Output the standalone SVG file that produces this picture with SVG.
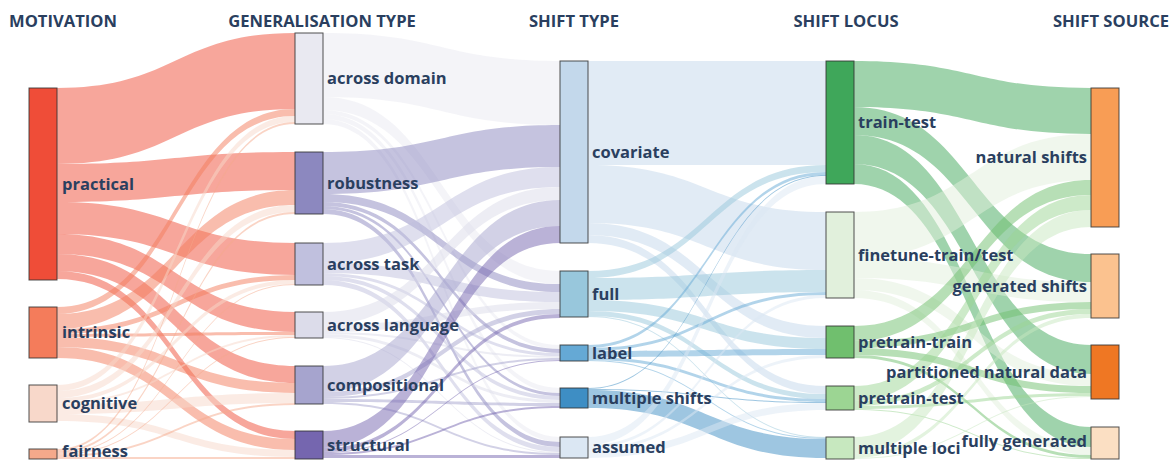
<svg xmlns="http://www.w3.org/2000/svg" width="1172" height="461" viewBox="0 0 1172 461">
<style>
text{font-family:"Open Sans","Noto Sans","Liberation Sans",sans-serif;font-weight:700;fill:#2a3f5f}
.hd{font-size:16.6px;text-anchor:middle}
.lb{font-size:16.5px}
.rt{text-anchor:end}
.nd{stroke:#333;stroke-width:1;stroke-opacity:.85}
#links path{fill-opacity:.5}
.cP{fill:#ef4d38}.cI{fill:#f47c5b}.cCg{fill:#f8d8ca}.cF{fill:#f5a98b}
.cAD{fill:#e9e9f1}.cR{fill:#8c88bf}.cAT{fill:#c0c0de}.cAL{fill:#dcdcea}.cC{fill:#a6a4ce}.cS{fill:#7566af}
.cCov{fill:#c3d8eb}.cFull{fill:#98c7dc}.cLab{fill:#65a9d5}.cMul{fill:#3e8ec4}.cAss{fill:#dbe7f3}
.cTT{fill:#3fa75a}.cFT{fill:#e1f0dc}.cPTr{fill:#70bf6e}.cPTe{fill:#9cd593}.cML{fill:#c7e8bf}
.cNS{fill:#f89d55}.cGS{fill:#fbc28f}.cPND{fill:#ef7723}.cFG{fill:#fbdfc3}
</style>
<g id="headers">
<text class="hd" x="63" y="27">MOTIVATION</text>
<text class="hd" x="322" y="27">GENERALISATION TYPE</text>
<text class="hd" x="574" y="27">SHIFT TYPE</text>
<text class="hd" x="846" y="27">SHIFT LOCUS</text>
<text class="hd" x="1111" y="27">SHIFT SOURCE</text>
</g>
<g id="links">
<path class="cP" d="M57 88C176 88 176 33 295 33L295 109C176 109 176 164 57 164Z"/>
<path class="cP" d="M57 164C176 164 176 152 295 152L295 190C176 190 176 202 57 202Z"/>
<path class="cP" d="M57 202C176 202 176 243 295 243L295 275C176 275 176 234 57 234Z"/>
<path class="cP" d="M57 234C176 234 176 312 295 312L295 332C176 332 176 254 57 254Z"/>
<path class="cP" d="M57 254C176 254 176 366 295 366L295 383C176 383 176 271 57 271Z"/>
<path class="cP" d="M57 271C176 271 176 431 295 431L295 439C176 439 176 279 57 279Z"/>
<path class="cI" d="M57 307C176 307 176 109 295 109L295 116C176 116 176 314 57 314Z"/>
<path class="cI" d="M57 314C176 314 176 190 295 190L295 205C176 205 176 329 57 329Z"/>
<path class="cI" d="M57 329C176 329 176 275 295 275L295 280C176 280 176 334 57 334Z"/>
<path class="cI" d="M57 334C176 334 176 332 295 332L295 335C176 335 176 337 57 337Z"/>
<path class="cI" d="M57 337C176 337 176 383 295 383L295 393C176 393 176 347 57 347Z"/>
<path class="cI" d="M57 347C176 347 176 439 295 439L295 450C176 450 176 358 57 358Z"/>
<path class="cCg" d="M57 385C176 385 176 116 295 116L295 122C176 122 176 391 57 391Z"/>
<path class="cCg" d="M57 391C176 391 176 205 295 205L295 212C176 212 176 398 57 398Z"/>
<path class="cCg" d="M57 398C176 398 176 280 295 280L295 284C176 284 176 402 57 402Z"/>
<path class="cCg" d="M57 402C176 402 176 335 295 335L295 337C176 337 176 404 57 404Z"/>
<path class="cCg" d="M57 404C176 404 176 393 295 393L295 403C176 403 176 414 57 414Z"/>
<path class="cCg" d="M57 414C176 414 176 450 295 450L295 457C176 457 176 421 57 421Z"/>
<path class="cF" d="M57 449C176 449 176 122 295 122L295 124C176 124 176 451 57 451Z"/>
<path class="cF" d="M57 451C176 451 176 212 295 212L295 214C176 214 176 453 57 453Z"/>
<path class="cF" d="M57 453C176 453 176 284 295 284L295 285C176 285 176 454 57 454Z"/>
<path class="cF" d="M57 454C176 454 176 337 295 337L295 338C176 338 176 455 57 455Z"/>
<path class="cF" d="M57 455C176 455 176 403 295 403L295 405C176 405 176 457 57 457Z"/>
<path class="cF" d="M57 457C176 457 176 457 295 457L295 459C176 459 176 459 57 459Z"/>
<path class="cAD" d="M323 33C441.5 33 441.5 61 560 61L560 125C441.5 125 441.5 97 323 97Z"/>
<path class="cAD" d="M323 97C441.5 97 441.5 271 560 271L560 284C441.5 284 441.5 110 323 110Z"/>
<path class="cAD" d="M323 110C441.5 110 441.5 345 560 345L560 349C441.5 349 441.5 114 323 114Z"/>
<path class="cAD" d="M323 114C441.5 114 441.5 388 560 388L560 393C441.5 393 441.5 119 323 119Z"/>
<path class="cAD" d="M323 119C441.5 119 441.5 437 560 437L560 442C441.5 442 441.5 124 323 124Z"/>
<path class="cR" d="M323 152C441.5 152 441.5 125 560 125L560 167C441.5 167 441.5 194 323 194Z"/>
<path class="cR" d="M323 194C441.5 194 441.5 284 560 284L560 292C441.5 292 441.5 202 323 202Z"/>
<path class="cR" d="M323 202C441.5 202 441.5 349 560 349L560 353C441.5 353 441.5 206 323 206Z"/>
<path class="cR" d="M323 206C441.5 206 441.5 393 560 393L560 396C441.5 396 441.5 209 323 209Z"/>
<path class="cR" d="M323 209C441.5 209 441.5 442 560 442L560 447C441.5 447 441.5 214 323 214Z"/>
<path class="cAT" d="M323 243C441.5 243 441.5 167 560 167L560 187C441.5 187 441.5 263 323 263Z"/>
<path class="cAT" d="M323 263C441.5 263 441.5 292 560 292L560 302C441.5 302 441.5 273 323 273Z"/>
<path class="cAT" d="M323 273C441.5 273 441.5 353 560 353L560 356C441.5 356 441.5 276 323 276Z"/>
<path class="cAT" d="M323 276C441.5 276 441.5 396 560 396L560 400C441.5 400 441.5 280 323 280Z"/>
<path class="cAT" d="M323 280C441.5 280 441.5 447 560 447L560 452C441.5 452 441.5 285 323 285Z"/>
<path class="cAL" d="M323 312C441.5 312 441.5 187 560 187L560 200C441.5 200 441.5 325 323 325Z"/>
<path class="cAL" d="M323 325C441.5 325 441.5 302 560 302L560 309C441.5 309 441.5 332 323 332Z"/>
<path class="cAL" d="M323 332C441.5 332 441.5 356 560 356L560 358C441.5 358 441.5 334 323 334Z"/>
<path class="cAL" d="M323 334C441.5 334 441.5 400 560 400L560 403C441.5 403 441.5 337 323 337Z"/>
<path class="cAL" d="M323 337C441.5 337 441.5 452 560 452L560 453C441.5 453 441.5 338 323 338Z"/>
<path class="cC" d="M323 366C441.5 366 441.5 200 560 200L560 226C441.5 226 441.5 392 323 392Z"/>
<path class="cC" d="M323 392C441.5 392 441.5 309 560 309L560 314C441.5 314 441.5 397 323 397Z"/>
<path class="cC" d="M323 397C441.5 397 441.5 358 560 358L560 360C441.5 360 441.5 399 323 399Z"/>
<path class="cC" d="M323 399C441.5 399 441.5 403 560 403L560 406C441.5 406 441.5 402 323 402Z"/>
<path class="cC" d="M323 402C441.5 402 441.5 453 560 453L560 455C441.5 455 441.5 404 323 404Z"/>
<path class="cS" d="M323 431C441.5 431 441.5 226 560 226L560 243C441.5 243 441.5 448 323 448Z"/>
<path class="cS" d="M323 448C441.5 448 441.5 314 560 314L560 318C441.5 318 441.5 452 323 452Z"/>
<path class="cS" d="M323 452C441.5 452 441.5 360 560 360L560 361C441.5 361 441.5 453 323 453Z"/>
<path class="cS" d="M323 453C441.5 453 441.5 406 560 406L560 408C441.5 408 441.5 455 323 455Z"/>
<path class="cS" d="M323 455C441.5 455 441.5 455 560 455L560 458C441.5 458 441.5 458 323 458Z"/>
<path class="cCov" d="M588 61C707 61 707 61 826 61L826 165C707 165 707 165 588 165Z"/>
<path class="cCov" d="M588 165C707 165 707 212 826 212L826 270C707 270 707 223 588 223Z"/>
<path class="cCov" d="M588 223C707 223 707 326 826 326L826 338C707 338 707 235 588 235Z"/>
<path class="cCov" d="M588 235C707 235 707 386 826 386L826 394C707 394 707 243 588 243Z"/>
<path class="cFull" d="M588 271C707 271 707 165 826 165L826 172C707 172 707 278 588 278Z"/>
<path class="cFull" d="M588 278C707 278 707 270 826 270L826 292C707 292 707 300 588 300Z"/>
<path class="cFull" d="M588 300C707 300 707 338 826 338L826 349C707 349 707 311 588 311Z"/>
<path class="cFull" d="M588 311C707 311 707 394 826 394L826 399C707 399 707 316 588 316Z"/>
<path class="cFull" d="M588 316C707 316 707 437 826 437L826 438C707 438 707 317 588 317Z"/>
<path class="cLab" d="M588 345C707 345 707 172 826 172L826 175C707 175 707 348 588 348Z"/>
<path class="cLab" d="M588 348C707 348 707 292 826 292L826 295C707 295 707 351 588 351Z"/>
<path class="cLab" d="M588 351C707 351 707 349 826 349L826 355C707 355 707 357 588 357Z"/>
<path class="cLab" d="M588 357C707 357 707 399 826 399L826 402C707 402 707 360 588 360Z"/>
<path class="cLab" d="M588 360C707 360 707 438 826 438L826 439C707 439 707 361 588 361Z"/>
<path class="cMul" d="M588 388C707 388 707 175 826 175L826 176C707 176 707 389 588 389Z"/>
<path class="cMul" d="M588 389C707 389 707 402 826 402L826 403C707 403 707 390 588 390Z"/>
<path class="cMul" d="M588 390C707 390 707 439 826 439L826 458C707 458 707 408 588 408Z"/>
<path class="cAss" d="M588 437C707 437 707 176 826 176L826 184C707 184 707 445 588 445Z"/>
<path class="cAss" d="M588 445C707 445 707 295 826 295L826 298C707 298 707 448 588 448Z"/>
<path class="cAss" d="M588 448C707 448 707 355 826 355L826 358C707 358 707 451 588 451Z"/>
<path class="cAss" d="M588 451C707 451 707 403 826 403L826 410C707 410 707 458 588 458Z"/>
<path class="cTT" d="M854 61C972.5 61 972.5 88 1091 88L1091 134C972.5 134 972.5 107 854 107Z"/>
<path class="cTT" d="M854 107C972.5 107 972.5 254 1091 254L1091 282C972.5 282 972.5 135 854 135Z"/>
<path class="cTT" d="M854 135C972.5 135 972.5 345 1091 345L1091 374C972.5 374 972.5 164 854 164Z"/>
<path class="cTT" d="M854 164C972.5 164 972.5 427 1091 427L1091 447C972.5 447 972.5 184 854 184Z"/>
<path class="cFT" d="M854 212C972.5 212 972.5 134 1091 134L1091 180C972.5 180 972.5 258 854 258Z"/>
<path class="cFT" d="M854 258C972.5 258 972.5 282 1091 282L1091 302C972.5 302 972.5 278 854 278Z"/>
<path class="cFT" d="M854 278C972.5 278 972.5 374 1091 374L1091 386C972.5 386 972.5 290 854 290Z"/>
<path class="cFT" d="M854 290C972.5 290 972.5 447 1091 447L1091 455C972.5 455 972.5 298 854 298Z"/>
<path class="cPTr" d="M854 326C972.5 326 972.5 180 1091 180L1091 195C972.5 195 972.5 341 854 341Z"/>
<path class="cPTr" d="M854 341C972.5 341 972.5 302 1091 302L1091 309C972.5 309 972.5 348 854 348Z"/>
<path class="cPTr" d="M854 348C972.5 348 972.5 386 1091 386L1091 393C972.5 393 972.5 355 854 355Z"/>
<path class="cPTr" d="M854 355C972.5 355 972.5 455 1091 455L1091 458C972.5 458 972.5 358 854 358Z"/>
<path class="cPTe" d="M854 386C972.5 386 972.5 195 1091 195L1091 210C972.5 210 972.5 401 854 401Z"/>
<path class="cPTe" d="M854 401C972.5 401 972.5 309 1091 309L1091 314C972.5 314 972.5 406 854 406Z"/>
<path class="cPTe" d="M854 406C972.5 406 972.5 393 1091 393L1091 396C972.5 396 972.5 409 854 409Z"/>
<path class="cPTe" d="M854 409C972.5 409 972.5 458 1091 458L1091 459C972.5 459 972.5 410 854 410Z"/>
<path class="cML" d="M854 437C972.5 437 972.5 210 1091 210L1091 227C972.5 227 972.5 454 854 454Z"/>
<path class="cML" d="M854 454C972.5 454 972.5 314 1091 314L1091 318C972.5 318 972.5 458 854 458Z"/>
<path class="cML" d="M854 458C972.5 458 972.5 396 1091 396L1091 397C972.5 397 972.5 459 854 459Z"/>
</g>
<g id="node-practical"><rect class="nd cP" x="29" y="88" width="28" height="192"/><text class="lb" x="62" y="184" dy=".35em">practical</text></g>
<g id="node-intrinsic"><rect class="nd cI" x="29" y="307" width="28" height="51"/><text class="lb" x="62" y="332.5" dy=".35em">intrinsic</text></g>
<g id="node-cognitive"><rect class="nd cCg" x="29" y="385" width="28" height="37"/><text class="lb" x="62" y="403.5" dy=".35em">cognitive</text></g>
<g id="node-fairness"><rect class="nd cF" x="29" y="449" width="28" height="10"/><text class="lb" x="62" y="451.5" dy=".35em">fairness</text></g>
<g id="node-across-domain"><rect class="nd cAD" x="295" y="33" width="28" height="91"/><text class="lb" x="327" y="78.5" dy=".35em">across domain</text></g>
<g id="node-robustness"><rect class="nd cR" x="295" y="152" width="28" height="62"/><text class="lb" x="327" y="183" dy=".35em">robustness</text></g>
<g id="node-across-task"><rect class="nd cAT" x="295" y="243" width="28" height="42"/><text class="lb" x="327" y="264" dy=".35em">across task</text></g>
<g id="node-across-language"><rect class="nd cAL" x="295" y="312" width="28" height="26"/><text class="lb" x="327" y="325" dy=".35em">across language</text></g>
<g id="node-compositional"><rect class="nd cC" x="295" y="366" width="28" height="38"/><text class="lb" x="327" y="385" dy=".35em">compositional</text></g>
<g id="node-structural"><rect class="nd cS" x="295" y="431" width="28" height="28"/><text class="lb" x="327" y="445" dy=".35em">structural</text></g>
<g id="node-covariate"><rect class="nd cCov" x="560" y="61" width="28" height="182"/><text class="lb" x="592" y="152" dy=".35em">covariate</text></g>
<g id="node-full"><rect class="nd cFull" x="560" y="271" width="28" height="46"/><text class="lb" x="592" y="294" dy=".35em">full</text></g>
<g id="node-label"><rect class="nd cLab" x="560" y="345" width="28" height="16"/><text class="lb" x="592" y="353" dy=".35em">label</text></g>
<g id="node-multiple-shifts"><rect class="nd cMul" x="560" y="388" width="28" height="20"/><text class="lb" x="592" y="398" dy=".35em">multiple shifts</text></g>
<g id="node-assumed"><rect class="nd cAss" x="560" y="437" width="28" height="21"/><text class="lb" x="592" y="447.5" dy=".35em">assumed</text></g>
<g id="node-train-test"><rect class="nd cTT" x="826" y="61" width="28" height="123"/><text class="lb" x="858" y="122.5" dy=".35em">train-test</text></g>
<g id="node-finetune"><rect class="nd cFT" x="826" y="212" width="28" height="86"/><text class="lb" x="858" y="255" dy=".35em">finetune-train/test</text></g>
<g id="node-pretrain-train"><rect class="nd cPTr" x="826" y="326" width="28" height="32"/><text class="lb" x="858" y="342" dy=".35em">pretrain-train</text></g>
<g id="node-pretrain-test"><rect class="nd cPTe" x="826" y="386" width="28" height="24"/><text class="lb" x="858" y="398" dy=".35em">pretrain-test</text></g>
<g id="node-multiple-loci"><rect class="nd cML" x="826" y="437" width="28" height="22"/><text class="lb" x="858" y="448" dy=".35em">multiple loci</text></g>
<g id="node-natural-shifts"><rect class="nd cNS" x="1091" y="88" width="28" height="139"/><text class="lb rt" x="1087" y="157.5" dy=".35em">natural shifts</text></g>
<g id="node-generated-shifts"><rect class="nd cGS" x="1091" y="254" width="28" height="64"/><text class="lb rt" x="1087" y="286" dy=".35em">generated shifts</text></g>
<g id="node-partitioned"><rect class="nd cPND" x="1091" y="345" width="28" height="54"/><text class="lb rt" x="1087" y="372" dy=".35em">partitioned natural data</text></g>
<g id="node-fully-generated"><rect class="nd cFG" x="1091" y="427" width="28" height="32"/><text class="lb rt" x="1087" y="441" dy=".35em">fully generated</text></g>
</svg>
